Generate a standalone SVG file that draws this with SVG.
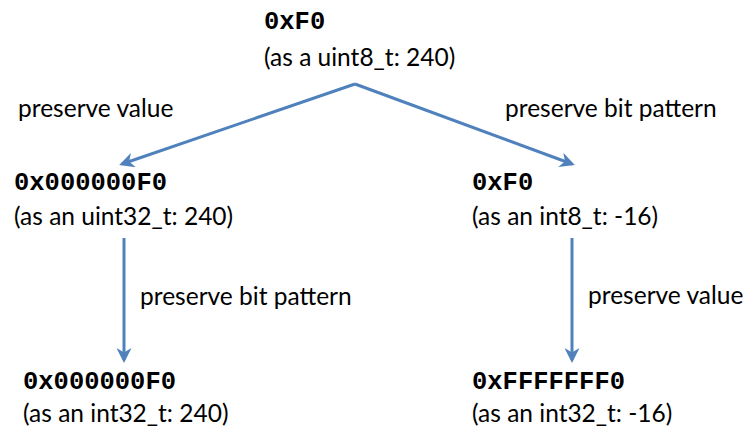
<svg xmlns="http://www.w3.org/2000/svg" width="746" height="427" viewBox="0 0 746 427">
<style>
.code{font-family:"Liberation Mono","Courier New",monospace;font-weight:bold;font-size:25.5px;fill:#000}
.t{font-family:Lato,"Open Sans",sans-serif;font-size:24.5px;fill:#000}
.c{stroke:#4f81bd;stroke-width:3;fill:none}
</style>
<defs>
<marker id="ah" viewBox="0 0 10 10" refX="8" refY="5" markerWidth="5" markerHeight="5" orient="auto" markerUnits="strokeWidth">
<path d="M0,0 L10,5 L0,10 L3,5 z" fill="#4f81bd"/>
</marker>
</defs>
<g id="connectors">
<path class="c" d="M355,84 L122,164" marker-end="url(#ah)"/>
<path class="c" d="M355,84 L572,164" marker-end="url(#ah)"/>
<path class="c" d="M124,238 L124,360" marker-end="url(#ah)"/>
<path class="c" d="M572,238 L572,360" marker-end="url(#ah)"/>
<text class="t" x="18" y="117">preserve value</text>
<text class="t" x="505" y="117">preserve bit pattern</text>
<text class="t" x="140" y="305">preserve bit pattern</text>
<text class="t" x="588" y="304">preserve value</text>
</g>
<g id="top">
<text class="code" x="264" y="29">0xF0</text>
<text class="t" x="264" y="66">(as a uint8_t: 240)</text>
</g>
<g id="midLeft">
<text class="code" x="14" y="190">0x000000F0</text>
<text class="t" x="14" y="225">(as an uint32_t: 240)</text>
</g>
<g id="midRight">
<text class="code" x="472" y="190">0xF0</text>
<text class="t" x="472" y="225">(as an int8_t: -16)</text>
</g>
<g id="botLeft">
<text class="code" x="23" y="389">0x000000F0</text>
<text class="t" x="23" y="422">(as an int32_t: 240)</text>
</g>
<g id="botRight">
<text class="code" x="472" y="389">0xFFFFFFF0</text>
<text class="t" x="472" y="422">(as an int32_t: -16)</text>
</g>
</svg>
